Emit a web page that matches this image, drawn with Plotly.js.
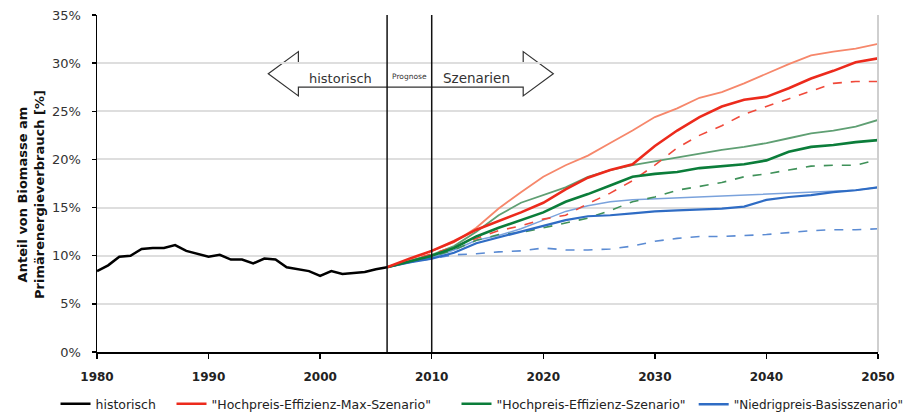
<!DOCTYPE html>
<html>
<head>
<meta charset="utf-8">
<script src="https://cdn.plot.ly/plotly-3.0.1.min.js"></script>
<style>html,body{margin:0;padding:0;background:#fff;}#chart{width:913px;height:412px;}</style>
</head>
<body>
<div id="chart"></div>
<script>
// ---- data ----
const histYears = [1980,1981,1982,1983,1984,1985,1986,1987,1988,1989,1990,1991,1992,1993,1994,1995,1996,1997,1998,1999,2000,2001,2002,2003,2004,2005,2006];
const histShare = [8.4,9.0,9.9,10.0,10.7,10.8,10.8,11.1,10.5,10.2,9.9,10.1,9.6,9.6,9.2,9.7,9.6,8.8,8.6,8.4,7.9,8.4,8.1,8.2,8.3,8.6,8.8];

const scenYears = [2006,2008,2010,2012,2014,2016,2018,2020,2022,2024,2026,2028,2030,2032,2034,2036,2038,2040,2042,2044,2046,2048,2050];

// "Hochpreis-Effizienz-Max-Szenario"
const maxUpper = [8.8,9.6,10.5,11.4,12.9,14.9,16.6,18.2,19.4,20.4,21.7,23.0,24.4,25.3,26.4,27.0,27.9,28.9,29.9,30.8,31.2,31.5,32.0];
const maxMain  = [8.8,9.7,10.5,11.5,12.7,13.6,14.5,15.5,16.9,18.1,18.9,19.5,21.4,23.0,24.4,25.5,26.2,26.5,27.4,28.4,29.2,30.1,30.5];
const maxLower = [8.8,9.5,10.2,10.9,11.8,12.6,13.1,13.8,14.2,15.4,16.5,17.8,19.4,21.2,22.5,23.5,24.7,25.5,26.3,27.1,27.9,28.1,28.1];
// "Hochpreis-Effizienz-Szenario"
const effUpper = [8.8,9.5,10.1,11.0,12.5,14.2,15.5,16.3,17.1,18.2,18.9,19.4,19.8,20.2,20.6,21.0,21.3,21.7,22.2,22.7,23.0,23.4,24.1];
const effMain  = [8.8,9.4,10.0,10.8,12.0,12.9,13.7,14.5,15.6,16.4,17.3,18.2,18.5,18.7,19.1,19.3,19.5,19.9,20.8,21.3,21.5,21.8,22.0];
const effLower = [8.8,9.4,9.9,10.6,11.6,12.2,12.4,12.9,13.4,13.9,14.7,15.6,16.1,16.8,17.2,17.6,18.2,18.5,18.9,19.3,19.4,19.4,20.0];
// "Niedrigpreis-Basisszenario"
const basUpper = [8.8,9.3,9.8,10.6,11.6,12.1,12.8,13.7,14.6,15.2,15.6,15.8,15.9,16.0,16.1,16.2,16.3,16.4,16.5,16.6,16.7,16.8,17.1];
const basMain  = [8.8,9.3,9.7,10.3,11.3,11.9,12.5,13.1,13.7,14.1,14.2,14.4,14.6,14.7,14.8,14.9,15.1,15.8,16.1,16.3,16.6,16.8,17.1];
const basLower = [8.8,9.3,9.7,10.1,10.2,10.4,10.5,10.8,10.6,10.6,10.7,11.0,11.5,11.8,12.0,12.0,12.1,12.2,12.4,12.6,12.7,12.7,12.8];

const seriesNames = ['historisch','"Hochpreis-Effizienz-Max-Szenario"','"Hochpreis-Effizienz-Szenario"','"Niedrigpreis-Basisszenario"'];
const phaseBounds = [2006, 2010];
const phaseLabels = ['historisch','Prognose','Szenarien'];
const yTicks = [0,5,10,15,20,25,30,35];
const xTicks = [1980,1990,2000,2010,2020,2030,2040,2050];

// ---- traces ----
function ln(x, y, color, width, dash, name, legendId) {
  const t = {x: x, y: y, type: 'scatter', mode: 'lines', name: name || '',
          showlegend: !!legendId, hoverinfo: 'skip',
          line: {color: color, width: width, dash: dash || 'solid'}};
  if (legendId) t.legend = legendId;
  return t;
}
const traces = [
  ln(scenYears, basLower, '#5b8bd3', 1.6, 'dash'),
  ln(scenYears, basUpper, '#7aa2dc', 1.5),
  ln(scenYears, effLower, '#3f9159', 1.6, 'dash'),
  ln(scenYears, effUpper, '#5f9f73', 1.8),
  ln(scenYears, maxLower, '#f0493a', 1.6, 'dash'),
  ln(scenYears, maxUpper, '#f6876b', 1.8),
  ln(scenYears, basMain, '#2f6cc4', 2.2),
  ln(scenYears, effMain, '#0b7d3a', 2.6),
  ln(scenYears, maxMain, '#ec2a1c', 2.6),
  ln(histYears, histShare, '#000000', 2.5, 'solid', seriesNames[0], 'legend'),
  ln([null], [null], '#ec2a1c', 2.5, 'solid', seriesNames[1], 'legend2'),
  ln([null], [null], '#0b7d3a', 2.5, 'solid', seriesNames[2], 'legend3'),
  ln([null], [null], '#2f6cc4', 2.5, 'solid', seriesNames[3], 'legend4')
];

// ---- arrow (decoration, data coords) ----
const aL = 1995.35, aLb = 1998.05, aRb = 2018.2, aR = 2020.9;
const aMid = 28.9, sTop = 30.0, sBot = 27.5, hTop = 31.2, hBot = 26.6;
const arrowPath = `M ${aL},${aMid} L ${aLb},${hTop} L ${aLb},${sTop} L ${aRb},${sTop} L ${aRb},${hTop} L ${aR},${aMid} L ${aRb},${hBot} L ${aRb},${sBot} L ${aLb},${sBot} L ${aLb},${hBot} Z`;

function leg(x, size) {
  return {orientation: 'h', x: x, xanchor: 'left', y: -0.155, yanchor: 'middle',
          font: {size: size, color: '#222'}, itemwidth: 30, bgcolor: 'rgba(0,0,0,0)'};
}

const layout = {
  width: 913, height: 412,
  margin: {l: 97, r: 35, t: 15, b: 60, autoexpand: false},
  paper_bgcolor: '#ffffff', plot_bgcolor: '#ffffff',
  font: {family: 'DejaVu Sans, Arial, sans-serif', color: '#222'},
  showlegend: true,
  legend: leg(-0.0531, 12.5),
  legend2: leg(0.0954, 12.5),
  legend3: leg(0.4603, 12.5),
  legend4: leg(0.7640, 12.0),
  xaxis: {range: [1980, 2050], tickvals: xTicks, ticktext: xTicks.map(String),
          showgrid: false, zeroline: false, showline: true, linecolor: '#000', linewidth: 1.5,
          ticks: 'outside', ticklen: 5, tickcolor: '#000', tickwidth: 1.5,
          tickfont: {size: 12, family: 'DejaVu Sans', weight: 'bold', color: '#222'}, ticklabelstandoff: 8},
  yaxis: {range: [0, 35], tickvals: yTicks, ticktext: yTicks.map(v => v + '%'),
          showgrid: true, gridcolor: '#dedede', gridwidth: 2, zeroline: false,
          showline: true, linecolor: '#000', linewidth: 1.5,
          ticks: 'outside', ticklen: 4, tickcolor: '#000', tickwidth: 1.5,
          tickfont: {size: 13, color: '#333'}, ticklabelstandoff: 8},
  shapes: [
    {type: 'path', xref: 'x', yref: 'y', path: arrowPath, fillcolor: '#ffffff',
     line: {color: '#333', width: 1.2}, layer: 'below'},
    {type: 'line', xref: 'x', yref: 'paper', x0: phaseBounds[0], x1: phaseBounds[0], y0: 0, y1: 1,
     line: {color: '#111', width: 1.5}},
    {type: 'line', xref: 'x', yref: 'paper', x0: phaseBounds[1], x1: phaseBounds[1], y0: 0, y1: 1,
     line: {color: '#111', width: 1.5}},
    {type: 'line', xref: 'paper', yref: 'paper', x0: 1, x1: 1, y0: 0, y1: 1,
     line: {color: '#cfcfcf', width: 2}}
  ],
  annotations: [
    {xref: 'paper', yref: 'paper', x: -0.0845, y: 0.466, xanchor: 'center', yanchor: 'middle',
     textangle: -90, showarrow: false,
     text: 'Anteil von Biomasse am<br>Primärenergieverbrauch [%]',
     font: {size: 13, family: 'DejaVu Sans', weight: 'bold', color: '#111'}},
    {xref: 'x', yref: 'y', x: 2001.8, y: 28.45, showarrow: false, text: phaseLabels[0],
     font: {size: 13, color: '#333'}},
    {xref: 'x', yref: 'y', x: 2008, y: 28.6, showarrow: false, text: phaseLabels[1],
     font: {size: 7.5, color: '#333'}},
    {xref: 'x', yref: 'y', x: 2014.0, y: 28.45, showarrow: false, text: phaseLabels[2],
     font: {size: 13.5, color: '#333'}}
  ]
};

Plotly.newPlot('chart', traces, layout, {displayModeBar: false, staticPlot: true});
</script>
</body>
</html>
